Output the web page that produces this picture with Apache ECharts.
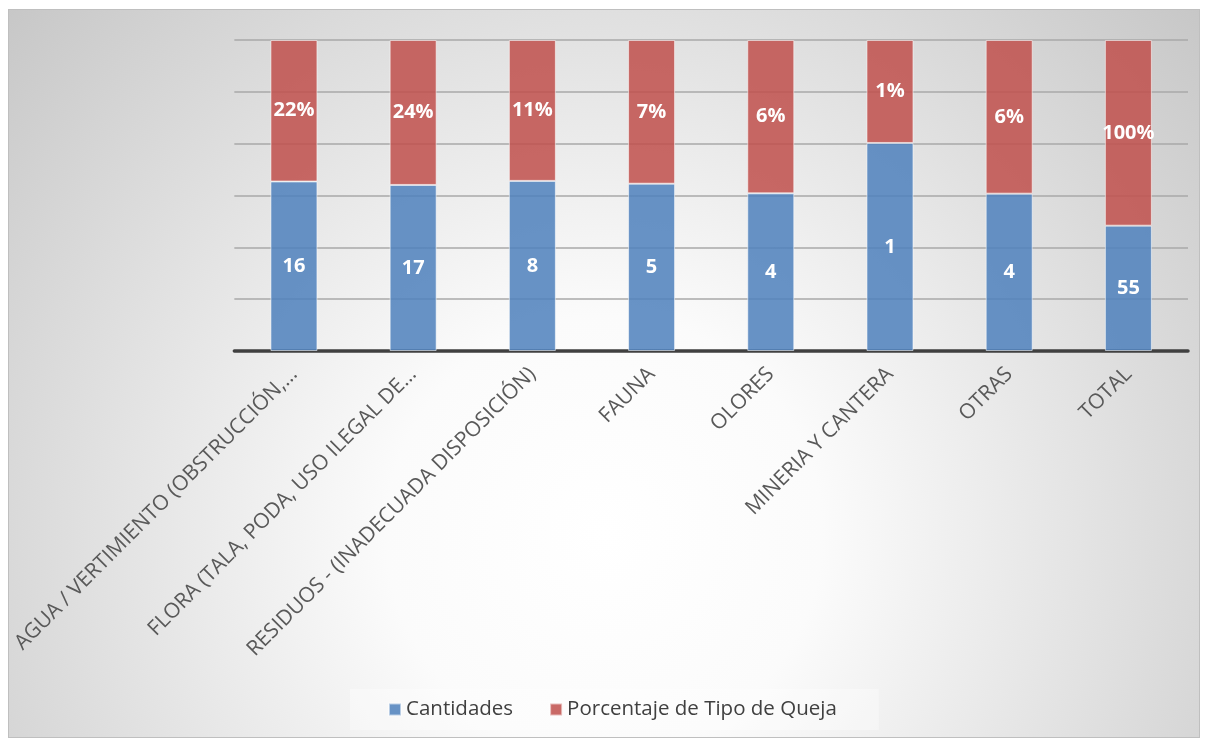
<!DOCTYPE html>
<html>
<head>
<meta charset="utf-8">
<script src="https://cdn.jsdelivr.net/npm/echarts@6/dist/echarts.min.js"></script>
<style>
html,body{margin:0;padding:0;background:#fff;width:1207px;height:740px;overflow:hidden;}
#c{position:absolute;left:8px;top:9px;width:1190px;height:727px;border:1px solid #BFBFBF;}
</style>
</head>
<body>
<div id="c"></div>
<script>
// Categories (as displayed, truncated in the original)
const categories = [
  "AGUA / VERTIMIENTO (OBSTRUCCIÓN,…",
  "FLORA (TALA, PODA, USO ILEGAL DE…",
  "RESIDUOS - (INADECUADA DISPOSICIÓN)",
  "FAUNA",
  "OLORES",
  "MINERIA Y CANTERA",
  "OTRAS",
  "TOTAL"
];
// Data labels shown on the bars
const cantidades = [16, 17, 8, 5, 4, 1, 4, 55];
const porcentajes = ["22%", "24%", "11%", "7%", "6%", "1%", "6%", "100%"];
// Share of each 100% stacked bar
const shareCantidades = [54.5, 53.4, 54.7, 53.8, 50.7, 66.9, 50.6, 40.3];
const sharePorcentaje = [45.5, 46.6, 45.3, 46.2, 49.3, 33.1, 49.4, 59.7];
const seriesNames = ["Cantidades", "Porcentaje de Tipo de Queja"];

const chart = echarts.init(document.getElementById('c'), null, {renderer: 'canvas'});
const font = "'Open Sans', 'Noto Sans', sans-serif";
const labelStyle = {
  show: true, position: 'inside', color: '#FFFFFF', fontFamily: font,
  fontWeight: 'bold', fontSize: 20
};
chart.setOption({
  animation: false,
  backgroundColor: new echarts.graphic.RadialGradient(0.5, 0.72, 1.2, [
    {offset: 0, color: '#FFFFFF'},
    {offset: 0.25, color: '#FBFBFB'},
    {offset: 1, color: '#C0C0C0'}
  ]),
  grid: {left: 224, right: 11, top: 30, bottom: 386, containLabel: false},
  legend: {
    bottom: 7, left: 341,
    itemWidth: 12, itemHeight: 12, itemGap: 36,
    icon: 'rect',
    padding: [10, 42, 10, 38],
    backgroundColor: 'rgba(255,255,255,0.35)',
    textStyle: {fontFamily: font, fontSize: 20.5, color: '#404040'},
    data: seriesNames
  },
  xAxis: {
    type: 'category',
    data: categories,
    axisLine: {show: true, lineStyle: {color: '#404040', width: 3.5}},
    axisTick: {show: false},
    axisLabel: {
      rotate: 45, interval: 0, margin: 20,
      fontFamily: font, fontSize: 21, color: '#595959'
    }
  },
  yAxis: {
    type: 'value', min: 0, max: 100, interval: 100 / 6,
    axisLabel: {show: false},
    axisLine: {show: false},
    axisTick: {show: false},
    splitLine: {show: true, lineStyle: {color: '#A8A8A8', width: 1.5}}
  },
  series: [
    {
      name: seriesNames[0], type: 'bar', stack: 's', barWidth: 47,
      data: shareCantidades,
      itemStyle: {color: 'rgba(79,129,189,0.86)', borderColor: 'rgba(255,255,255,0.55)', borderWidth: 1},
      label: Object.assign({}, labelStyle, {formatter: p => String(cantidades[p.dataIndex])})
    },
    {
      name: seriesNames[1], type: 'bar', stack: 's', barWidth: 47,
      data: sharePorcentaje,
      itemStyle: {color: 'rgba(192,80,77,0.86)', borderColor: 'rgba(255,255,255,0.55)', borderWidth: 1},
      label: Object.assign({}, labelStyle, {formatter: p => porcentajes[p.dataIndex]})
    }
  ]
});
</script>
</body>
</html>
